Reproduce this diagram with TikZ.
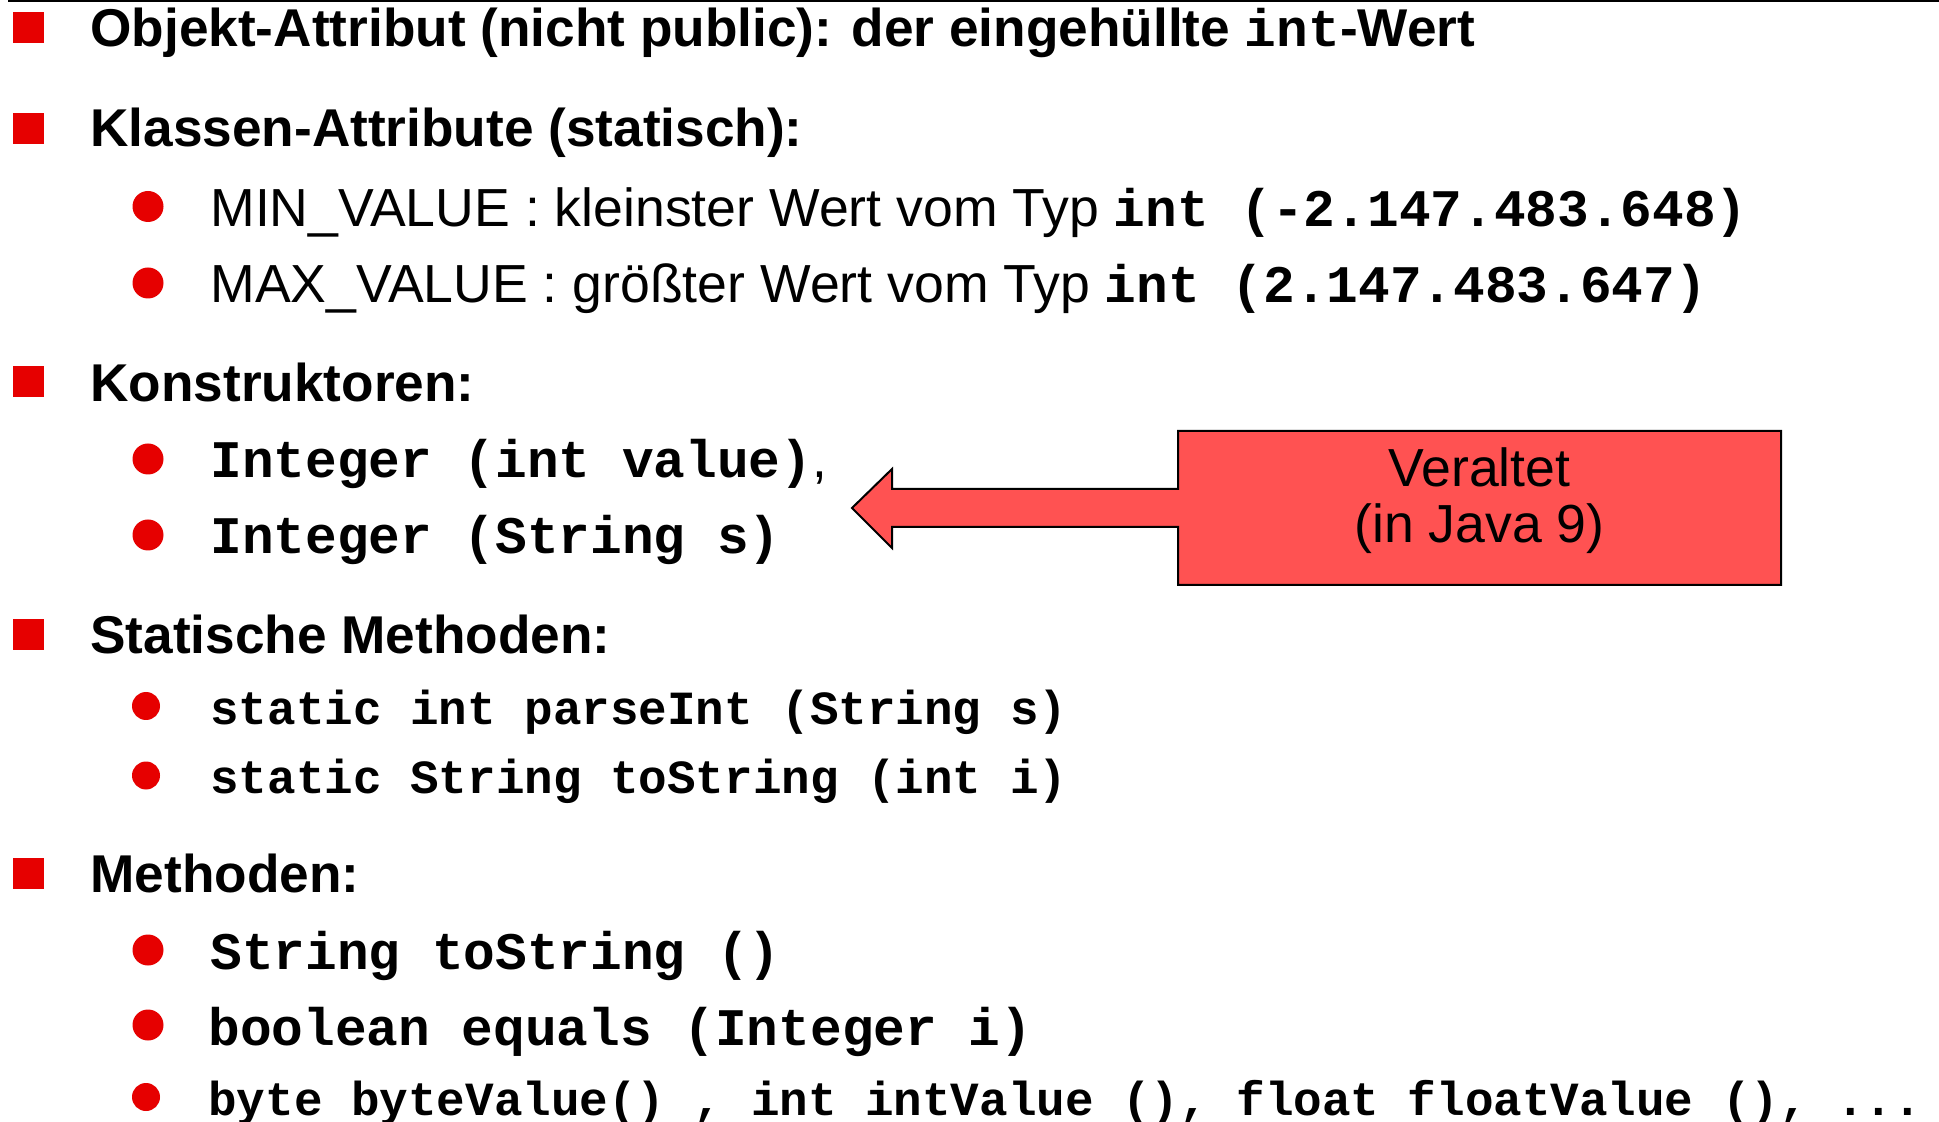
\documentclass[tikz,border=0pt]{standalone}
\usepackage{fontspec}
\setmainfont{Liberation Sans}
\newfontfamily\codefont{Liberation Mono}
\definecolor{bulletred}{RGB}{230,0,0}
\definecolor{calloutred}{RGB}{255,82,82}
\newcommand{\cd}[1]{{\codefont\fontsize{26.4}{30}\selectfont\bfseries #1}}

\begin{document}
\begin{tikzpicture}[x=0.5pt,y=-0.5pt,
  head/.style={anchor=base west, inner sep=0pt,
    font=\fontsize{26.6}{30}\selectfont\bfseries},
  item/.style={anchor=base west, inner sep=0pt,
    font=\fontsize{26.8}{30}\selectfont},
  code/.style={anchor=base west, inner sep=0pt,
    font=\codefont\fontsize{26.4}{30}\selectfont\bfseries},
  smallcode/.style={anchor=base west, inner sep=0pt,
    font=\codefont\fontsize{23.8}{28}\selectfont\bfseries},
  sqbullet/.style={rectangle, fill=bulletred, draw=none,
    minimum size=15.5pt, inner sep=0pt},
  dotbullet/.style={circle, fill=bulletred, draw=none,
    minimum size=15.5pt, inner sep=0pt},
  smalldot/.style={dotbullet, minimum size=14pt},
]
\useasboundingbox (0,0) rectangle (1939,1122);
\fill[white] (0,0) rectangle (1939,1122);

% rule along the top edge
\draw[line width=1pt] (8,1) -- (1939,1);

% --- object attribute
\node[sqbullet] (sqA) at (28.5,27.5) {};
\node[head] (objattr) at (90,47)
  {Objekt-Attribut (nicht public): der eingehüllte \cd{int}-Wert};

% --- class attributes
\node[sqbullet] (sqB) at (28.5,128.5) {};
\node[head] (klattr) at (90,147) {Klassen-Attribute (statisch):};
\node[dotbullet] (dotMin) at (148,206.5) {};
\node[item] (minval) at (210,227)
  {MIN\_VALUE : kleinster Wert vom Typ \cd{int (-2.147.483.648)}};
\node[dotbullet] (dotMax) at (148,283) {};
\node[item] (maxval) at (210,303)
  {MAX\_VALUE : größter Wert vom Typ \cd{int (2.147.483.647)}};

% --- constructors
\node[sqbullet] (sqC) at (28.5,381.5) {};
\node[head] (konstr) at (90,402) {Konstruktoren:};
\node[dotbullet] (dotK1) at (148,459) {};
\node[code] (konstrA) at (210,478) {Integer (int value)\normalfont\fontsize{26.5}{30}\selectfont,};
\node[dotbullet] (dotK2) at (148,535) {};
\node[code] (konstrB) at (210,554) {Integer (String s)};

% --- static methods
\node[sqbullet] (sqD) at (28.5,634.5) {};
\node[head] (statm) at (90,654) {Statische Methoden:};
\node[smalldot] (dotS1) at (146,706) {};
\node[smallcode] (parseint) at (210,725) {static int parseInt (String s)};
\node[smalldot] (dotS2) at (146,775.5) {};
\node[smallcode] (tostr) at (210,793) {static String toString (int i)};

% --- instance methods
\node[sqbullet] (sqE) at (28.5,873) {};
\node[head] (meth) at (90,892) {Methoden:};
\node[dotbullet] (dotM1) at (148,950) {};
\node[code] (methA) at (210,969) {String toString ()};
\node[dotbullet] (dotM2) at (148,1025) {};
\node[code] (methB) at (208,1045) {boolean equals (Integer i)};
\node[smalldot] (dotM3) at (146,1097) {};
\node[smallcode] (methC) at (208,1115)
  {byte byteValue() , int intValue (), float floatValue (), ...};

% --- callout box with arrow pointing at the constructors
\draw[line width=1pt, fill=calloutred, line join=miter]
  (1178,431) -- (1781,431) -- (1781,585) -- (1178,585) -- (1178,527)
  -- (892,527) -- (892,548) -- (852,508) -- (892,469) -- (892,489)
  -- (1178,489) -- cycle;
\node[item, anchor=base] (veraltet) at (1479.5,487) {Veraltet};
\node[item, anchor=base] (javaneun) at (1479.5,543) {(in Java 9)};
\end{tikzpicture}
\end{document}
